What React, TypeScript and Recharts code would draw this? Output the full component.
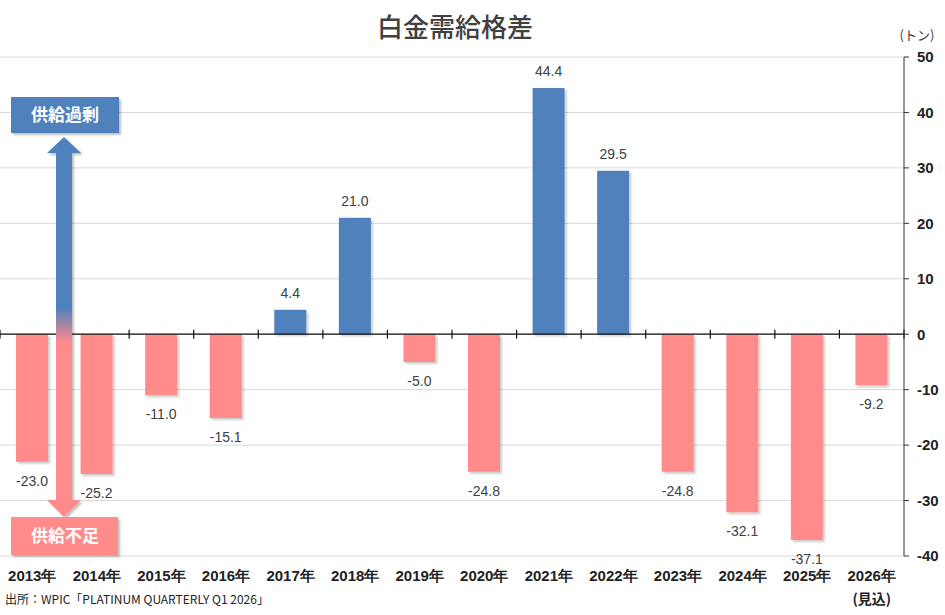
import { BarChart, Bar, XAxis, YAxis, CartesianGrid, ReferenceLine, Cell, LabelList } from 'recharts'

const years = [
  '2013年', '2014年', '2015年', '2016年', '2017年', '2018年', '2019年',
  '2020年', '2021年', '2022年', '2023年', '2024年', '2025年', '2026年',
]
// 需給バランス（トン）
const balance = [-23.0, -25.2, -11.0, -15.1, 4.4, 21.0, -5.0, -24.8, 44.4, 29.5, -24.8, -32.1, -37.1, -9.2]
const yTicks = [-40, -30, -20, -10, 0, 10, 20, 30, 40, 50]
const forecastYear = '2026年'
const forecastNote = '(見込)'

const BLUE = '#4F81BD'
const PINK = '#FF8B8B'
const TEXT = '#404040'
const JP = '"Noto Sans CJK JP", "Noto Sans", sans-serif'
const NUM = '"Liberation Sans", Arial, sans-serif'

const rows = years.map((year, idx) => ({ idx, year, value: balance[idx] }))
const boundaries = Array.from({ length: years.length + 1 }, (_, i) => i - 0.5)

function YearTick({ x, y, payload }: any) {
  const label = years[payload.value]
  return (
    <g>
      <text x={x} y={y + 17} textAnchor="middle" fontFamily={NUM} fontWeight={700} fontSize={15} fill="#222">
        {label}
      </text>
      {label === forecastYear && (
        <text x={x} y={y + 40} textAnchor="middle" fontFamily={JP} fontWeight={700} fontSize={14} fill="#222">
          {forecastNote}
        </text>
      )}
    </g>
  )
}

function ValueLabel({ x, y, width, height, value }: any) {
  const v = Number(value)
  const top = Math.min(y, y + height)
  const bottom = Math.max(y, y + height)
  const ty = v >= 0 ? top - 12 : bottom + 24
  return (
    <text x={x + width / 2} y={ty} textAnchor="middle" fontFamily={NUM} fontSize={14} fill={TEXT}>
      {v.toFixed(1)}
    </text>
  )
}

function Annotations() {
  return (
    <svg width={945} height={615} style={{ position: 'absolute', left: 0, top: 0, pointerEvents: 'none' }}>
      <defs>
        <linearGradient id="arrowFill" gradientUnits="userSpaceOnUse" x1="0" y1="137" x2="0" y2="517">
          <stop offset="0.45" stopColor={BLUE} />
          <stop offset="0.54" stopColor={PINK} />
        </linearGradient>
        <filter id="boxShadow" x="-10%" y="-10%" width="130%" height="140%">
          <feDropShadow dx="2" dy="2" stdDeviation="1.2" floodColor="#000" floodOpacity="0.25" />
        </filter>
      </defs>
      <text x={455} y={37} textAnchor="middle" fontFamily={JP} fontWeight={500} fontSize={26} fill={TEXT}>
        白金需給格差
      </text>
      <text x={917} y={40} textAnchor="middle" fontFamily={JP} fontSize={13} fill={TEXT}>
        (トン)
      </text>
      <polygon
        points="64,137 81,153 72,153 72,500 81,500 64,517 47,500 56,500 56,153 47,153"
        fill="url(#arrowFill)"
        filter="url(#boxShadow)"
      />
      <rect x={11} y={97} width={108} height={36} fill={BLUE} filter="url(#boxShadow)" />
      <text x={65} y={121} textAnchor="middle" fontFamily={JP} fontWeight={700} fontSize={17} fill="#fff">
        供給過剰
      </text>
      <rect x={11} y={517} width={107} height={38} fill={PINK} filter="url(#boxShadow)" />
      <text x={65} y={542} textAnchor="middle" fontFamily={JP} fontWeight={700} fontSize={17} fill="#fff">
        供給不足
      </text>
      <text x={5} y={604} fontFamily={JP} fontSize={12} fill="#222">
        出所：WPIC「PLATINUM QUARTERLY Q1 2026」
      </text>
    </svg>
  )
}

export default function App() {
  return (
    <div style={{ position: 'absolute', left: 0, top: 0, width: 945, height: 615, background: '#fff' }}>
      <BarChart width={945} height={615} data={rows} margin={{ top: 57, right: 0, bottom: 0, left: 0 }}>
        <defs>
          <filter id="barShadow" x="-20%" y="-5%" width="150%" height="115%">
            <feDropShadow dx="2" dy="2" stdDeviation="1" floodColor="#000" floodOpacity="0.2" />
          </filter>
        </defs>
        <CartesianGrid vertical={false} stroke="#d9d9d9" />
        <XAxis
          dataKey="idx"
          type="number"
          domain={[-0.5, years.length - 0.5]}
          ticks={rows.map((r) => r.idx)}
          allowDataOverflow
          axisLine={false}
          tickLine={false}
          height={59}
          tick={<YearTick />}
        />
        <YAxis
          orientation="right"
          domain={[-40, 50]}
          ticks={yTicks}
          allowDataOverflow
          width={41}
          stroke="#333"
          tickSize={5}
          tickMargin={8}
          tick={{ fontFamily: NUM, fontWeight: 700, fontSize: 15, fill: '#222', textAnchor: 'start' }}
        />
        <Bar dataKey="value" barSize={32} isAnimationActive={false} filter="url(#barShadow)">
          {rows.map((r) => (
            <Cell key={r.year} fill={r.value >= 0 ? BLUE : PINK} />
          ))}
          <LabelList dataKey="value" content={<ValueLabel />} />
        </Bar>
        <ReferenceLine y={0} stroke="#111" strokeWidth={1.2} />
        {boundaries.map((b) => (
          <ReferenceLine
            key={b}
            segment={[{ x: b, y: -0.8 }, { x: b, y: 0.8 }]}
            stroke="#111"
            strokeWidth={1.2}
            ifOverflow="visible"
          />
        ))}
      </BarChart>
      <Annotations />
    </div>
  )
}
